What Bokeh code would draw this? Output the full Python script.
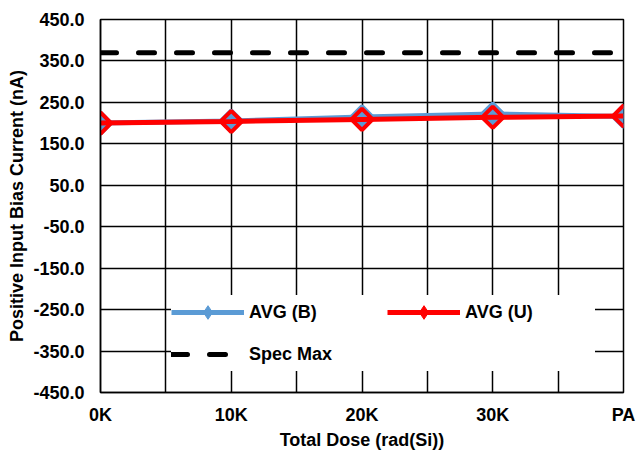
from bokeh.plotting import figure
from bokeh.models import FixedTicker, Legend, LegendItem, Range1d, PrintfTickFormatter
from bokeh.embed import file_html
from bokeh.resources import INLINE
import math

categories = ["0K", "10K", "20K", "30K", "PA"]
avg_b = [200.0, 205.0, 215.0, 222.0, 216.0]
avg_u = [200.0, 204.0, 209.0, 214.0, 217.0]
spec_max = [370.0, 370.0, 370.0, 370.0, 370.0]
y_ticks = [-450, -350, -250, -150, -50, 50, 150, 250, 350, 450]

xs = list(range(len(categories)))
FONT = "Liberation Sans"

p = figure(width=643, height=454, output_backend="svg", toolbar_location=None,
           x_range=Range1d(0, 4), y_range=Range1d(-450, 450),
           min_border_left=100, min_border_right=20, min_border_top=19, min_border_bottom=62)
p.background_fill_color = "white"
p.border_fill_color = "white"
p.outline_line_color = "black"
p.outline_line_width = 1.5

# axes
p.xaxis.ticker = FixedTicker(ticks=xs)
p.xaxis.major_label_overrides = {i: c for i, c in enumerate(categories)}
p.yaxis.ticker = FixedTicker(ticks=y_ticks)
p.yaxis.formatter = PrintfTickFormatter(format="%.1f")
for ax in (p.xaxis[0], p.yaxis[0]):
    ax.major_tick_in = 0
    ax.major_tick_out = 0
    ax.minor_tick_in = 0
    ax.minor_tick_out = 0
    ax.axis_line_color = "black"
    ax.axis_line_width = 1.5
    ax.major_label_text_font = FONT
    ax.major_label_text_font_style = "bold"
    ax.major_label_text_font_size = "18px"
    ax.major_label_text_color = "black"
    ax.axis_label_text_font = FONT
    ax.axis_label_text_font_style = "bold"
    ax.axis_label_text_font_size = "18px"
    ax.axis_label_text_color = "black"
p.xaxis.axis_label = "Total Dose (rad(Si))"
p.yaxis.axis_label = "Positive Input Bias Current (nA)"
p.xaxis.major_label_standoff = 12
p.xaxis.axis_label_standoff = 2
p.yaxis.major_label_standoff = 16
p.yaxis.axis_label_standoff = 3

# grid
p.xgrid.ticker = FixedTicker(ticks=[i * 0.5 for i in range(9)])
p.ygrid.ticker = FixedTicker(ticks=y_ticks)
for g in (p.xgrid[0], p.ygrid[0]):
    g.grid_line_color = "black"
    g.grid_line_width = 1.5

BLUE = "#5B9BD5"
RED = "#FF0000"

spec = p.line(xs, spec_max, line_color="black", line_width=5, line_dash="16 22", line_cap="round")

bl = p.line(xs, avg_b, line_color=BLUE, line_width=5)
bm = p.scatter(xs, avg_b, marker="square", angle=math.pi / 4, size=15,
               fill_color=BLUE, line_color=BLUE, line_width=4)
rl = p.line(xs, avg_u, line_color=RED, line_width=5)
rm = p.scatter(xs, avg_u, marker="square", angle=math.pi / 4, size=15,
               fill_color=None, line_color=RED, line_width=4)

# legend-only markers (filled diamonds), not drawn in the plot itself
lbm = p.scatter(xs, avg_b, marker="diamond", size=16, fill_color=BLUE, line_color=BLUE, visible=False)
lrm = p.scatter(xs, avg_u, marker="diamond", size=16, fill_color=RED, line_color=RED, visible=False)

legend = Legend(items=[
    LegendItem(label="AVG (B)", renderers=[bl, lbm]),
    LegendItem(label="Spec Max", renderers=[spec]),
    LegendItem(label="AVG (U)", renderers=[rl, lrm]),
], location=(71, 21), ncols=2, click_policy="none",
    glyph_width=73, glyph_height=34, label_standoff=5, label_width=130,
    spacing=8, padding=14, margin=0,
    border_line_color=None, background_fill_color="white", background_fill_alpha=1.0,
    label_text_font=FONT, label_text_font_style="bold", label_text_font_size="18px",
    label_text_color="black")
p.add_layout(legend, "center")

open("out.html", "w").write(file_html(p, INLINE))
